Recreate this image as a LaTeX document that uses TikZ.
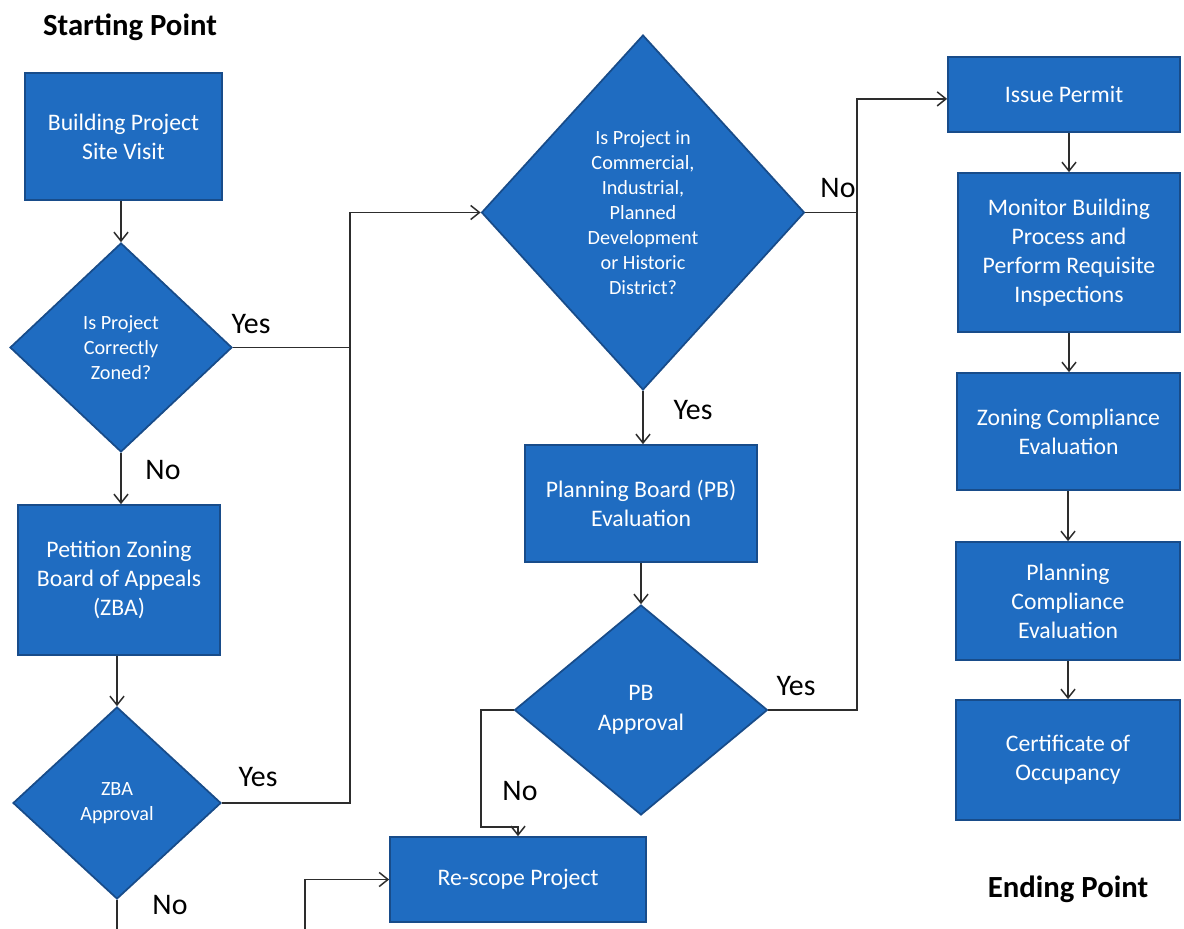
\documentclass[tikz,border=0pt]{standalone}
\usepackage{fontspec}
\setmainfont{Carlito}
\usetikzlibrary{shapes.geometric,arrows.meta}
\definecolor{boxfill}{RGB}{31,108,193}
\definecolor{boxedge}{RGB}{24,76,138}
\definecolor{linec}{RGB}{45,45,45}
\tikzset{
  procbox/.style={draw=boxedge,fill=boxfill,line width=1pt,text=white,align=center,
    inner sep=2pt,font=\fontsize{13.5}{16.5}\selectfont},
  decision/.style={diamond,draw=boxedge,fill=boxfill,line width=1pt,text=white,align=center,
    inner sep=0pt,font=\fontsize{11.5}{14.2}\selectfont},
  lbl/.style={font=\fontsize{17}{20}\selectfont,text=black},
  heading/.style={font=\bfseries\fontsize{17.5}{21}\selectfont,text=black},
  conn/.style={draw=linec,line width=0.85pt},
  arr/.style={conn,-{Straight Barb[length=5pt,width=8pt]}}
}
\begin{document}
\begin{tikzpicture}[x=0.02cm,y=-0.02cm]
\useasboundingbox[fill=white] (0,0) rectangle (1184,929);

% headings
\node[heading] (start) at (130,27) {Starting Point};
\node[heading] (end) at (1068,889) {Ending Point};

% left column
\node[procbox,minimum width=3.94cm,minimum height=2.54cm] (b1) at (123.5,136.5) {Building Project\\Site Visit};
\node[decision,minimum width=4.44cm,minimum height=4.18cm] (d1) at (121,347.5) {Is Project\\Correctly\\Zoned?};
\node[procbox,minimum width=4.04cm,minimum height=3.0cm] (b2) at (119,580) {Petition Zoning\\Board of Appeals\\(ZBA)};
\node[decision,minimum width=4.16cm,minimum height=3.84cm] (d3) at (117,803) {ZBA\\Approval};

% middle column
\node[decision,minimum width=6.46cm,minimum height=7.10cm] (d2) at (643,212.5) {Is Project in\\Commercial,\\Industrial,\\Planned\\Development\\or Historic\\District?};
\node[procbox,minimum width=4.64cm,minimum height=2.34cm] (pb) at (641,503.5) {Planning Board (PB)\\Evaluation};
\node[decision,minimum width=5.06cm,minimum height=4.20cm,font=\fontsize{13.5}{17}\selectfont] (d4) at (641,710) {PB\\Approval};
\node[procbox,minimum width=5.12cm,minimum height=1.70cm] (rs) at (518,879.5) {Re-scope Project};

% right column
\node[procbox,minimum width=4.64cm,minimum height=1.50cm] (ip) at (1064,94.5) {Issue Permit};
\node[procbox,minimum width=4.44cm,minimum height=3.18cm] (mon) at (1069,252.5) {Monitor Building\\Process and\\Perform Requisite\\Inspections};
\node[procbox,minimum width=4.46cm,minimum height=2.34cm] (zc) at (1068.5,431.5) {Zoning Compliance\\Evaluation};
\node[procbox,minimum width=4.48cm,minimum height=2.36cm] (pc) at (1068,601) {Planning\\Compliance\\Evaluation};
\node[procbox,minimum width=4.48cm,minimum height=2.40cm] (co) at (1068,760) {Certificate of\\Occupancy};

% junction coordinates
\coordinate (jx) at (350,0);
\coordinate (kx) at (857,0);
\coordinate (nc) at (481,827);
\coordinate (offa) at (117,929);
\coordinate (offb) at (305,929);

% connectors left
\draw[arr] (d1.north |- b1.south) -- (d1.north);
\draw[arr] (d1.south) -- (d1.south |- b2.north);
\draw[arr] (d3.north |- b2.south) -- (d3.north);
\draw[conn] (d1.east) -- (d1.east -| jx);
\draw[arr] (d3.east) -| (jx |- d2.west) -- (d2.west);
\draw[conn] (d3.south) -- (offa);
\draw[arr] (offb) |- (rs.west);

% connectors middle
\draw[arr] (d2.south) -- (d2.south |- pb.north);
\draw[arr] (pb.south) -- (d4.north);
\draw[arr] (d4.west) -| (nc) -- (nc -| rs.north) -- (rs.north);
\draw[conn] (d2.east) -- (d2.east -| kx);
\draw[arr] (d4.east) -| ([yshift=-2.5] kx |- ip.west) -- ([yshift=-2.5] ip.west);

% connectors right
\draw[arr] (ip.south -| mon.north) -- (mon.north);
\draw[arr] (mon.south) -- (mon.south |- zc.north);
\draw[arr] (pc.north |- zc.south) -- (pc.north);
\draw[arr] (pc.south) -- (co.north);

% labels
\node[lbl] (l1) at (251,324) {Yes};
\node[lbl] (l2) at (163,470) {No};
\node[lbl] (l3) at (258,777) {Yes};
\node[lbl] (l4) at (170,905) {No};
\node[lbl] (l5) at (693,410) {Yes};
\node[lbl] (l6) at (838,188) {No};
\node[lbl] (l7) at (796,686) {Yes};
\node[lbl] (l8) at (520,791) {No};
\end{tikzpicture}
\end{document}
